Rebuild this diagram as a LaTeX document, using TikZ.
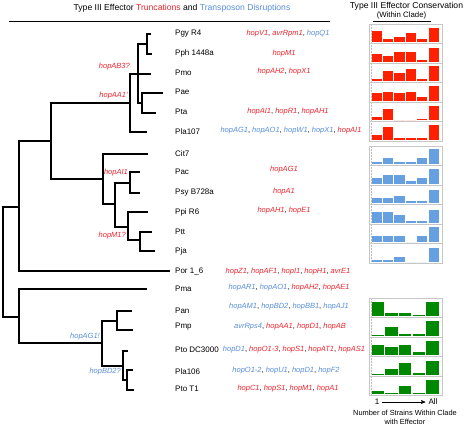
\documentclass[tikz,border=0pt]{standalone}
\usepackage{fontspec}
\setmainfont{Liberation Sans}
\usetikzlibrary{arrows}

\definecolor{truncred}{RGB}{238,36,46}
\definecolor{tnspblue}{RGB}{88,142,218}
\definecolor{barred}{RGB}{255,32,0}
\definecolor{barblue}{RGB}{102,160,224}
\definecolor{bargreen}{RGB}{0,136,0}

\newcommand{\trc}[1]{\textcolor{truncred}{\textit{#1}}}
\newcommand{\tps}[1]{\textcolor{tnspblue}{\textit{#1}}}

% one conservation panel: top y, colour, slot width, bar heights
\newcommand{\barpanel}[4]{%
  \draw[panelframe] (369,#1) rectangle (442,#1+19.5);
  \draw[panelaxis] (371,#1+1) -- (371,#1+18.5);
  \foreach \h [count=\i] in {#4}
    \fill[#2] (371.5+\i*#3-#3,#1+18.3) rectangle ++(#3-1.2,-\h);
}

\begin{document}
\begin{tikzpicture}[x=1pt,y=-1pt,
                    branch/.style={line width=2pt,to path={|- (\tikztotarget) \tikztonodes}},
                    taxon/.style={anchor=west,inner sep=0pt,font=\fontsize{8}{9}\selectfont},
                    eff/.style={inner sep=0pt,font=\fontsize{7.5}{9}\selectfont},
                    event/.style={anchor=east,inner sep=0pt,font=\fontsize{7.5}{9}\selectfont\itshape},
                    head/.style={inner sep=0pt,font=\fontsize{8.6}{10}\selectfont},
                    panelframe/.style={draw=black!22,line width=0.8pt},
                    panelaxis/.style={draw=black!25,densely dotted,line width=0.5pt}]
\useasboundingbox (0,0) rectangle (467,426);

% headings
\node[head] (maintitle) at (182,8) {Type III Effector \textcolor{truncred}{Truncations} and \textcolor{tnspblue}{Transposon Disruptions}};
\draw[line width=0.9pt] (9,21) -- (330,21);
\node[head] (constitle) at (406.5,6) {Type III Effector Conservation};
\node[inner sep=0pt,font=\fontsize{7.8}{9}\selectfont] (within) at (401.5,15) {(Within Clade)};
\draw[line width=0.9pt] (373,21.5) -- (431,21.5);

% strains
\node[taxon] (pgy)    at (175,34)  {Pgy R4};
\node[taxon] (pph)    at (175,53)  {Pph 1448a};
\node[taxon] (pmo)    at (175,73)  {Pmo};
\node[taxon] (pae)    at (175,92)  {Pae};
\node[taxon] (pta)    at (175,112) {Pta};
\node[taxon] (pla107) at (175,132) {Pla107};
\node[taxon] (cit7)   at (175,154) {Cit7};
\node[taxon] (pac)    at (175,172) {Pac};
\node[taxon] (psy)    at (175,193) {Psy B728a};
\node[taxon] (ppi)    at (175,212) {Ppi R6};
\node[taxon] (ptt)    at (175,232) {Ptt};
\node[taxon] (pja)    at (175,251) {Pja};
\node[taxon] (por)    at (175,271) {Por 1\_6};
\node[taxon] (pma)    at (175,289) {Pma};
\node[taxon] (pan)    at (175,311) {Pan};
\node[taxon] (pmp)    at (175,327) {Pmp};
\node[taxon] (dc3000) at (175,350) {Pto DC3000};
\node[taxon] (pla106) at (175,372) {Pla106};
\node[taxon] (pt1)    at (175,389) {Pto T1};

% tree: clades and tips
\coordinate (root)      at (3,262);
\coordinate (upper)     at (19,207);
\coordinate (lower)     at (19,317);
\coordinate (grpone)    at (51,141);
\coordinate (pmoclade)  at (130,103);
\coordinate (pgyclade)  at (138,74);
\coordinate (pgypph)    at (147,44);
\coordinate (paepta)    at (142,103);
\coordinate (cit7clade) at (103,179);
\coordinate (syrclade)  at (115,204);
\coordinate (pacpsy)    at (130,183);
\coordinate (ppiclade)  at (128,227);
\coordinate (pttpja)    at (140,240);
\coordinate (tomclade)  at (102,343);
\coordinate (panpmp)    at (117,321);
\coordinate (ptoclade)  at (123,366);
\coordinate (pla106pt1) at (127,380);
\coordinate (pgyT)    at (151,34);
\coordinate (pphT)    at (152,54);
\coordinate (pmoT)    at (151,74);
\coordinate (paeT)    at (163,93);
\coordinate (ptaT)    at (156,113);
\coordinate (pla107T) at (147,132);
\coordinate (cit7T)   at (148,154);
\coordinate (pacT)    at (140,172);
\coordinate (psyT)    at (140,193);
\coordinate (ppiT)    at (148,212);
\coordinate (pttT)    at (152,232);
\coordinate (pjaT)    at (155,251);
\coordinate (porT)    at (170,271);
\coordinate (pmaT)    at (147,289);
\coordinate (panT)    at (132,311);
\coordinate (pmpT)    at (133,330);
\coordinate (dc3000T) at (128,351);
\coordinate (pla106T) at (133,370);
\coordinate (pt1T)    at (134,390);

\path[branch]
  (root) edge (upper)
         edge (lower)
  (upper) edge (grpone)
          edge (porT)
  (grpone) edge (pmoclade)
           edge (cit7clade)
  (pmoclade) edge (pmoT)
             edge (pgyclade)
             edge (pla107T)
  (pgyclade) edge (pgypph)
             edge (paepta)
  (pgypph) edge (pgyT)
           edge (pphT)
  (paepta) edge (paeT)
           edge (ptaT)
  (cit7clade) edge (cit7T)
              edge (syrclade)
  (syrclade) edge (pacpsy)
             edge (ppiclade)
  (pacpsy) edge (pacT)
           edge (psyT)
  (ppiclade) edge (ppiT)
             edge (pttpja)
  (pttpja) edge (pttT)
           edge (pjaT)
  (lower) edge (pmaT)
          edge (tomclade)
  (tomclade) edge (panpmp)
             edge (ptoclade)
  (panpmp) edge (panT)
           edge (pmpT)
  (ptoclade) edge (dc3000T)
             edge (pla106pt1)
  (pla106pt1) edge (pla106T)
              edge (pt1T);

% branch events
\node[event,text=truncred] (evab3) at (130,67)  {hopAB3?};
\node[event,text=truncred] (evaa1) at (128,96)  {hopAA1'};
\node[event,text=truncred] (evai1) at (128,173) {hopAI1};
\node[event,text=truncred] (evm1)  at (126,236) {hopM1?};
\node[event,text=tnspblue] (evag1) at (100,337) {hopAG1!};
\node[event,text=tnspblue] (evbd2) at (121,372) {hopBD2?};

% effectors per strain
\node[eff] (pgyE)    at (288,34)  {\trc{hopV1}, \trc{avrRpm1}, \tps{hopQ1}};
\node[eff] (pphE)    at (284,54)  {\trc{hopM1}};
\node[eff] (pmoE)    at (284,72)  {\trc{hopAH2}, \trc{hopX1}};
\node[eff] (ptaE)    at (288,112) {\trc{hopAI1}, \trc{hopR1}, \trc{hopAH1}};
\node[eff] (pla107E) at (291,131) {\tps{hopAG1}, \tps{hopAO1}, \tps{hopW1}, \tps{hopX1}, \trc{hopAI1}};
\node[eff] (pacE)    at (284,170) {\trc{hopAG1}};
\node[eff] (psyE)    at (284,192) {\trc{hopA1}};
\node[eff] (ppiE)    at (284,211) {\trc{hopAH1}, \trc{hopE1}};
\node[eff] (porE)    at (288,272) {\trc{hopZ1}, \trc{hopAF1}, \trc{hopI1}, \trc{hopH1}, \trc{avrE1}};
\node[eff] (pmaE)    at (289,288) {\tps{hopAR1}, \tps{hopAO1}, \trc{hopAH2}, \trc{hopAE1}};
\node[eff] (panE)    at (289,307) {\tps{hopAM1}, \tps{hopBD2}, \tps{hopBB1}, \tps{hopAJ1}};
\node[eff] (pmpE)    at (290,327) {\tps{avrRps4}, \trc{hopAA1}, \trc{hopD1}, \trc{hopAB}};
\node[eff] (dc3000E) at (294,350) {\tps{hopD1}, \trc{hopO1-3}, \trc{hopS1}, \trc{hopAT1}, \trc{hopAS1}};
\node[eff] (pla106E) at (286,371) {\tps{hopO1-2}, \tps{hopU1}, \tps{hopD1}, \tps{hopF2}};
\node[eff] (pt1E)    at (288,389) {\trc{hopC1}, \trc{hopS1}, \trc{hopM1}, \trc{hopA1}};

% conservation panels
\barpanel{24}{barred}{11.4}{11.7,3.3,5.7,9.7,3.3,14.3}
\barpanel{43.5}{barred}{11.4}{7.7,5.7,9.7,9.7,1.7,14.3}
\barpanel{63}{barred}{11.4}{2,10.3,8.3,12.7,2,15}
\barpanel{82.5}{barred}{11.4}{7.7,9.3,7.7,9.3,3.7,15}
\barpanel{102}{barred}{11.4}{3,11.3,0,0,1.3,14.7}
\barpanel{121.5}{barred}{11.4}{5.3,13,1.7,1.7,1.7,14.7}
\barpanel{146}{barblue}{11.4}{2.7,6,2.7,2.7,6,15.3}
\barpanel{165.5}{barblue}{11.4}{6.3,9.3,9.3,2.7,6.3,15.3}
\barpanel{185}{barblue}{11.4}{5,5,7.7,2,2,13.3}
\barpanel{204.5}{barblue}{11.4}{10.7,10.7,8,2,2,13.3}
\barpanel{224}{barblue}{11.4}{6.7,6.7,6.7,0,6.7,15}
\barpanel{243.5}{barblue}{11.4}{2,2,4.7,0,0,13.7}
\barpanel{298}{bargreen}{13.7}{14,3,3,1.7,14}
\barpanel{317.5}{bargreen}{13.7}{1.3,9.3,2,2,15.3}
\barpanel{337}{bargreen}{13.7}{10.7,8,10.7,3.3,14}
\barpanel{356.5}{bargreen}{13.7}{1,6,12,2.3,14.3}
\barpanel{376}{bargreen}{13.7}{3.7,1.3,8.7,1.3,14.7}

% axis of the panels
\node[inner sep=1pt,font=\fontsize{8}{9}\selectfont] (few) at (377,402) {1};
\node[inner sep=1pt,font=\fontsize{8}{9}\selectfont] (all) at (433,402) {All};
\draw[->,>=stealth',line width=0.6pt,shorten <=2pt,shorten >=2pt] (few) -- (all);
\node[align=center,inner sep=0pt,font=\fontsize{7.4}{9}\selectfont] (axisname) at (405,417.5) {Number of Strains Within Clade\\with Effector};
\end{tikzpicture}
\end{document}
